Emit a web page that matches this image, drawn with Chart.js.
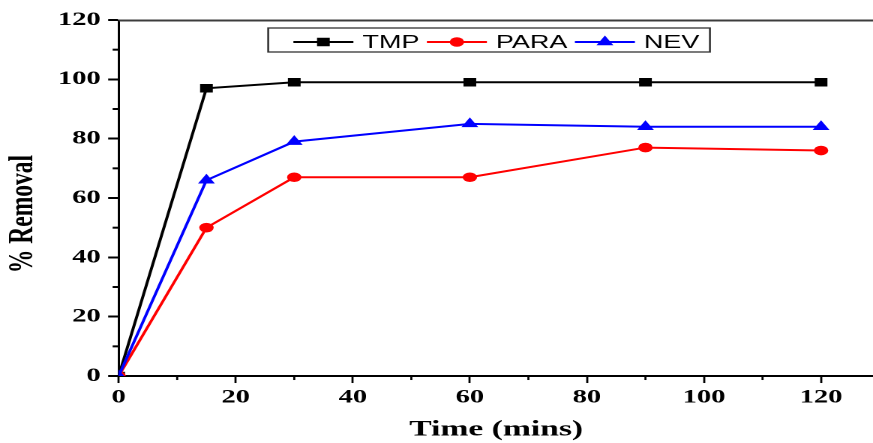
<!DOCTYPE html>
<html><head><meta charset="utf-8">
<script src="https://cdn.jsdelivr.net/npm/chart.js@4/dist/chart.umd.min.js"></script>
<style>
html,body{margin:0;padding:0;background:#fff;overflow:hidden;width:873px;height:443px;}
#wrap{position:absolute;left:0;top:0;width:589px;height:443px;transform:scaleX(1.5);transform-origin:0 0;}
</style></head><body>
<div id="wrap"><canvas id="c" width="589" height="443"></canvas></div>
<script>
// ---- data ----
const timeMins = [0, 15, 30, 60, 90, 120];
const tmpRemoval = [0, 97, 99, 99, 99, 99];
const paraRemoval = [0, 50, 67, 67, 77, 76];
const nevRemoval = [0, 66, 79, 85, 84, 84];
const seriesLabels = ['TMP', 'PARA', 'NEV'];
const xTickValues = [0, 20, 40, 60, 80, 100, 120];
const yTickValues = [0, 20, 40, 60, 80, 100, 120];
const xMinorTicks = [10, 30, 50, 70, 90, 110];
const yMinorTicks = [10, 30, 50, 70, 90, 110];
const xTitle = 'Time (mins)';
const yTitle = '% Removal';

const toPts = (ys) => timeMins.map((t, i) => ({x: t, y: ys[i]}));

function drawMarker(ctx, style, r, x, y) {
  ctx.beginPath();
  if (style === 'rect') {
    const s = Math.SQRT1_2 * r;
    ctx.rect(x - s, y - s, 2 * s, 2 * s);
  } else if (style === 'circle') {
    ctx.arc(x, y, r, 0, Math.PI * 2);
  } else if (style === 'triangle') {
    ctx.moveTo(x, y - r);
    ctx.lineTo(x + r * Math.sin(Math.PI / 3), y + r / 2);
    ctx.lineTo(x - r * Math.sin(Math.PI / 3), y + r / 2);
    ctx.closePath();
  }
  ctx.fill();
}

const decor = {
  id: 'decor',
  afterDraw(chart) {
    const ctx = chart.ctx, a = chart.chartArea, xs = chart.scales.x, ys = chart.scales.y;
    ctx.save();
    // top frame line
    ctx.strokeStyle = '#3c3c3c';
    ctx.lineWidth = 2;
    ctx.beginPath(); ctx.moveTo(a.left, a.top + 0.5); ctx.lineTo(a.right, a.top + 0.5); ctx.stroke();
    // minor ticks
    ctx.strokeStyle = '#000';
    ctx.lineWidth = 1.4;
    xMinorTicks.forEach(v => {
      const px = xs.getPixelForValue(v);
      ctx.beginPath(); ctx.moveTo(px, a.bottom); ctx.lineTo(px, a.bottom + 4); ctx.stroke();
    });
    ctx.lineWidth = 2;
    yMinorTicks.forEach(v => {
      const py = ys.getPixelForValue(v);
      ctx.beginPath(); ctx.moveTo(a.left, py); ctx.lineTo(a.left - 4, py); ctx.stroke();
    });
    // y title, drawn lower than centre as in the reference
    ctx.save();
    ctx.font = 'bold 23.5px "Liberation Serif", "Times New Roman", serif';
    ctx.fillStyle = '#000';
    ctx.textAlign = 'center';
    ctx.textBaseline = 'middle';
    ctx.translate(15.6, 214);
    ctx.rotate(-Math.PI / 2);
    ctx.fillText(yTitle, 0, 0);
    ctx.restore();
    // legend
    const boxL = 178.8, boxT = 28, boxB = 52, cy = 42;
    ctx.font = '18px "Liberation Sans", Arial, sans-serif';
    ctx.textBaseline = 'middle';
    ctx.textAlign = 'left';
    let x = boxL + 16.8;
    const entries = [];
    chart.data.datasets.forEach(ds => {
      const w = ctx.measureText(ds.label).width;
      entries.push({ds, x});
      x += 40 + 6 + w + 5;
    });
    const boxR = x - 5 + 7;
    ctx.fillStyle = '#fff';
    ctx.fillRect(boxL, boxT, boxR - boxL, boxB - boxT);
    ctx.strokeStyle = '#333';
    ctx.lineWidth = 1.3;
    ctx.strokeRect(boxL, boxT, boxR - boxL, boxB - boxT);
    entries.forEach(({ds, x}) => {
      ctx.strokeStyle = ds.borderColor;
      ctx.lineWidth = 2;
      ctx.beginPath(); ctx.moveTo(x, cy); ctx.lineTo(x + 40, cy); ctx.stroke();
      ctx.fillStyle = ds.pointBackgroundColor;
      drawMarker(ctx, ds.pointStyle, ds.pointRadius, x + 20, cy);
      ctx.fillStyle = '#000';
      ctx.fillText(ds.label, x + 46, cy + 1);
    });
    ctx.restore();
  }
};

const tickFont = {family: '"Liberation Serif", "Times New Roman", serif', size: 19, weight: 'bold'};
const titleFont = {family: '"Liberation Serif", "Times New Roman", serif', size: 22.4, weight: 'bold'};

new Chart(document.getElementById('c'), {
  type: 'line',
  data: {
    datasets: [
      {label: seriesLabels[0], data: toPts(tmpRemoval), borderColor: '#000000', backgroundColor: '#000000',
       pointBackgroundColor: '#000000', pointBorderColor: '#000000', pointStyle: 'rect', pointRadius: 6, pointBorderWidth: 0, borderWidth: 2, order: 2},
      {label: seriesLabels[1], data: toPts(paraRemoval), borderColor: '#ff0000', backgroundColor: '#ff0000',
       pointBackgroundColor: '#ff0000', pointBorderColor: '#ff0000', pointStyle: 'circle', pointRadius: 4.8, pointBorderWidth: 0, borderWidth: 2, order: 1},
      {label: seriesLabels[2], data: toPts(nevRemoval), borderColor: '#0000ff', backgroundColor: '#0000ff',
       pointBackgroundColor: '#0000ff', pointBorderColor: '#0000ff', pointStyle: 'triangle', pointRadius: 6.5, pointBorderWidth: 0, borderWidth: 2, order: 0}
    ]
  },
  options: {
    responsive: false,
    devicePixelRatio: 2,
    animation: false,
    layout: {padding: {top: 20, left: 0.5, right: 0, bottom: 0}},
    plugins: {legend: {display: false}, tooltip: {enabled: false}},
    scales: {
      x: {
        type: 'linear', min: 0, max: 129,
        afterBuildTicks: s => { s.ticks = xTickValues.map(v => ({value: v})); },
        ticks: {font: tickFont, color: '#000', padding: 3, maxRotation: 0},
        grid: {drawOnChartArea: false, tickLength: 7, tickWidth: 1.4, tickColor: '#000'},
        border: {display: true, color: '#000', width: 2},
        title: {display: true, text: xTitle, font: titleFont, color: '#000', padding: {top: 4.3, bottom: 0}}
      },
      y: {
        type: 'linear', min: 0, max: 120,
        afterBuildTicks: s => { s.ticks = yTickValues.map(v => ({value: v})); },
        ticks: {font: tickFont, color: '#000', padding: 5},
        grid: {drawOnChartArea: false, tickLength: 7, tickWidth: 2, tickColor: '#000'},
        border: {display: true, color: '#000', width: 1.5},
        afterFit: s => { s.width = 79.1 - 0.5; }
      }
    }
  },
  plugins: [decor]
});
</script>
</body></html>
